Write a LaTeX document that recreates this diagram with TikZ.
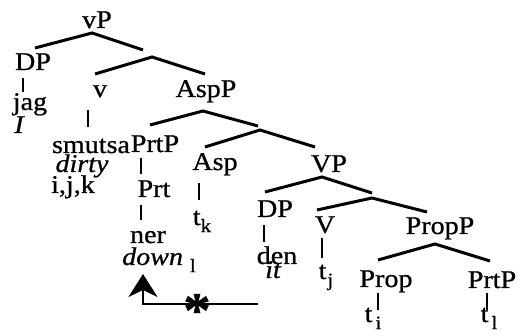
\documentclass[tikz,border=0pt]{standalone}
\usepackage{fontspec}
\setmainfont{Liberation Serif}[FakeStretch=1.1,FakeBold=0.8]
\usetikzlibrary{arrows.meta}
\newcommand\subx[1]{\raisebox{-0.28em}{\fontsize{19}{19}\selectfont #1}}
\begin{document}
\begin{tikzpicture}[x=1pt,y=-1pt,
  lb/.style={inner sep=0pt,anchor=base,font=\fontsize{25.5}{25.5}\selectfont},
  br/.style={line width=3pt},
  vbar/.style={line width=2.5pt},
  mv/.style={line width=2.5pt}]
\useasboundingbox (0,0) rectangle (520,336);
% labels
\node[lb] (vP) at (97,28) {vP};
\node[lb] (DPa) at (33,70) {DP};
\node[lb] (jag) at (30,110) {jag};
\node[lb] (I) at (19,133) {\itshape I};
\node[lb] (v) at (100,97) {v};
\node[lb] (AspP) at (206,97) {AspP};
\node[lb] (smutsa) at (91,153) {smutsa};
\node[lb] (dirty) at (82,172) {\itshape dirty};
\node[lb] (ijk) at (73,193) {i,j,k};
\node[lb] (PrtPa) at (155,152) {PrtP};
\node[lb] (Prt) at (154,197) {Prt};
\node[lb] (ner) at (148,243) {ner};
\node[lb,anchor=base west] (down) at (122,265) {\itshape down\hspace{7pt}\subx{\upshape l}};
\node[lb] (Asp) at (215,170) {Asp};
\node[lb] (tk) at (202,225) {t\subx{k}};
\node[lb] (VP) at (329,172) {VP};
\node[lb] (DPb) at (275,217) {DP};
\node[lb] (den) at (277,264) {den};
\node[lb] (it) at (273,278) {\itshape it};
\node[lb] (V) at (325,233) {V};
\node[lb] (tj) at (326,279) {t\hspace{1pt}\subx{j}};
\node[lb] (PropP) at (440,234) {PropP};
\node[lb] (Prop) at (386,287) {Prop};
\node[lb] (PrtPb) at (492,288) {PrtP};
\node[lb] (ti) at (373,322) {t\hspace{3pt}\subx{i}};
\node[lb] (tl) at (489,322) {t\hspace{3pt}\subx{l}};
% branch points
\coordinate (avP) at (92,33);   \coordinate (lvP) at (35,48);   \coordinate (rvP) at (143,50);
\coordinate (avb) at (152,57);  \coordinate (lvb) at (95,74);   \coordinate (rvb) at (205,74);
\coordinate (aAspP) at (203,111); \coordinate (lAspP) at (150,125); \coordinate (rAspP) at (258,126);
\coordinate (aAspb) at (260,130); \coordinate (lAspb) at (205,147); \coordinate (rAspb) at (315,147);
\coordinate (aVP) at (322,177); \coordinate (lVP) at (265,192); \coordinate (rVP) at (372,193);
\coordinate (aVb) at (372,198); \coordinate (lVb) at (317,210); \coordinate (rVb) at (427,212);
\coordinate (aPropP) at (435,244); \coordinate (lPropP) at (378,260); \coordinate (rPropP) at (490,261);
\draw[br] (lvP) -- (avP) -- (rvP);
\draw[br] (lvb) -- (avb) -- (rvb);
\draw[br] (lAspP) -- (aAspP) -- (rAspP);
\draw[br] (lAspb) -- (aAspb) -- (rAspb);
\draw[br] (lVP) -- (aVP) -- (rVP);
\draw[br] (lVb) -- (aVb) -- (rVb);
\draw[br] (lPropP) -- (aPropP) -- (rPropP);
% vertical bars
\coordinate (b1t) at (23,78);   \coordinate (b1b) at (23,92);
\coordinate (b2t) at (88,110);  \coordinate (b2b) at (88,127);
\coordinate (b3t) at (141,158); \coordinate (b3b) at (141,174);
\coordinate (b4t) at (141,205); \coordinate (b4b) at (141,220);
\coordinate (b5t) at (199,183); \coordinate (b5b) at (199,200);
\coordinate (b6t) at (264,225); \coordinate (b6b) at (264,242);
\coordinate (b7t) at (322,238); \coordinate (b7b) at (322,258);
\coordinate (b8t) at (378,293); \coordinate (b8b) at (378,310);
\coordinate (b9t) at (487,293); \coordinate (b9b) at (487,310);
\foreach \i in {1,...,9} {\draw[vbar] (b\i t) -- (b\i b);}
% movement arrow
\coordinate (mstart) at (258,304);
\coordinate (mcorner) at (143,304);
\coordinate (mtip) at (143,274);
\draw[mv,-{Stealth[length=23pt,width=29pt,inset=7pt]}] (mstart) -- (mcorner) -- (mtip);
\node[inner sep=0pt,anchor=base,font=\fontsize{50}{50}\selectfont\bfseries] (star) at (197,327) {*};
\end{tikzpicture}
\end{document}
